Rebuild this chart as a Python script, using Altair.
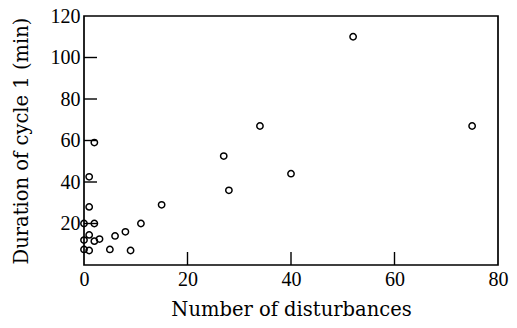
import altair as alt
import pandas as pd

disturbances = [52, 75, 34, 27, 40, 28, 15, 11, 8, 6, 5, 9, 3, 2, 2, 2, 1, 1, 1, 0, 0, 0, 1]
duration = [110, 67, 67, 52.5, 44, 36, 29, 20, 16, 14, 7.5, 7, 12.5, 11.5, 20, 59, 42.5, 28, 14.5, 20, 12, 7.5, 7]
x_ticks = [0, 20, 40, 60, 80]
y_ticks = [0, 20, 40, 60, 80, 100, 120]
x_inner_ticks = [20, 40, 60]
y_inner_ticks = [20, 40, 60, 80, 100]

W, H = 414, 249
TICK = 13
LABEL_FONT = "Liberation Serif"
TITLE_FONT = "DejaVu Serif"

df = pd.DataFrame({"x": disturbances, "y": duration})
xt = pd.DataFrame({"v": x_inner_ticks})
yt = pd.DataFrame({"v": y_inner_ticks})

xscale = alt.Scale(domain=[0, 80], nice=False, zero=False)
yscale = alt.Scale(domain=[0, 120], nice=False, zero=False)

points = alt.Chart(df).mark_point(
    shape="circle", filled=False, color="black", strokeWidth=1.5, size=40, opacity=1
).encode(
    x=alt.X("x:Q", scale=xscale, title="Number of disturbances",
            axis=alt.Axis(values=x_ticks, labelFont=LABEL_FONT, labelFontSize=20,
                          labelColor="black", labelPadding=4, ticks=False, domain=False,
                          grid=False, titleFont=TITLE_FONT, titleFontSize=19.5,
                          titleFontWeight="normal", titleColor="black",
                          titleBaseline="alphabetic", titleY=50,
                          labelFlush=False)),
    y=alt.Y("y:Q", scale=yscale, title="Duration of cycle 1 (min)",
            axis=alt.Axis(values=y_ticks, labelFont=LABEL_FONT, labelFontSize=20,
                          labelColor="black", labelPadding=4, ticks=False, domain=False,
                          grid=False, titleFont=TITLE_FONT, titleFontSize=19.5,
                          titleFontWeight="normal", titleColor="black",
                          titleBaseline="alphabetic", titleX=-57,
                          labelExpr="datum.value == 0 ? '' : datum.label",
                          labelFlush=False)),
)

xtick_rules = alt.Chart(xt).mark_rule(color="black", strokeWidth=1.4).encode(
    x=alt.X("v:Q", scale=xscale),
    y=alt.value(H),
    y2=alt.value(H - TICK),
)
ytick_rules = alt.Chart(yt).mark_rule(color="black", strokeWidth=1.4).encode(
    y=alt.Y("v:Q", scale=yscale),
    x=alt.value(0),
    x2=alt.value(TICK),
)

chart = alt.layer(points, xtick_rules, ytick_rules).properties(
    width=W, height=H,
    autosize=alt.AutoSizeParams(type="none"),
    padding={"left": 76, "top": 8, "right": 11, "bottom": 55},
    background="white",
).configure_view(stroke="black", strokeWidth=1.7)

chart.save("out.html", embed_options={"renderer": "svg", "actions": False})
